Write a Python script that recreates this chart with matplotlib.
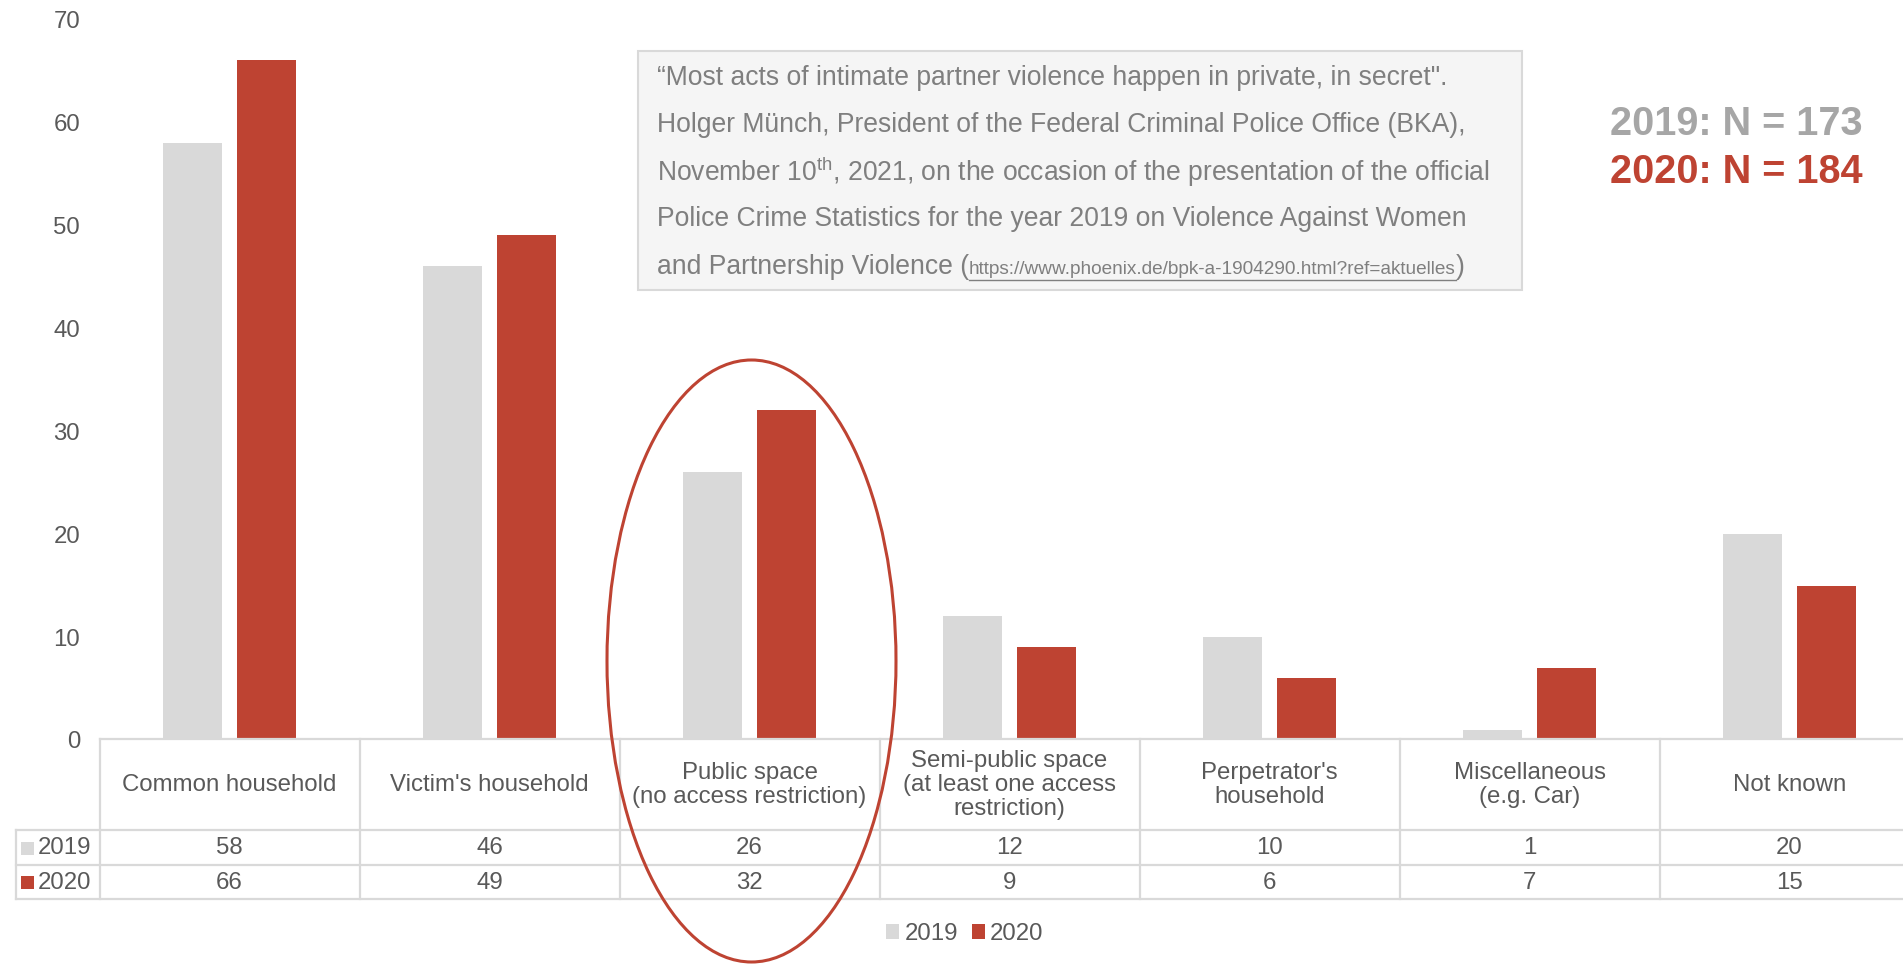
import matplotlib
matplotlib.use("Agg")
import matplotlib.pyplot as plt
from matplotlib.patches import Rectangle, Ellipse, Patch
from matplotlib.transforms import blended_transform_factory
from matplotlib.lines import Line2D

plt.rcParams['font.family'] = ['Liberation Sans', 'DejaVu Sans']
plt.rcParams['mathtext.fontset'] = 'custom'
plt.rcParams['mathtext.rm'] = 'Liberation Sans'

categories = ["Common household", "Victim's household",
              "Public space\n(no access restriction)",
              "Semi-public space\n(at least one access\nrestriction)",
              "Perpetrator's\nhousehold", "Miscellaneous\n(e.g. Car)", "Not known"]
series_names = ["2019", "2020"]
values_2019 = [58, 46, 26, 12, 10, 1, 20]
values_2020 = [66, 49, 32, 9, 6, 7, 15]
yticks = [0, 10, 20, 30, 40, 50, 60, 70]
quote_lines = [
    "\u201cMost acts of intimate partner violence happen in private, in secret\".",
    "Holger M\u00fcnch, President of the Federal Criminal Police Office (BKA),",
    "November 10$^{\\mathregular{th}}$, 2021, on the occasion of the presentation of the official",
    "Police Crime Statistics for the year 2019 on Violence Against Women",
]
quote_last = "and Partnership Violence ("
quote_url = "https://www.phoenix.de/bpk-a-1904290.html?ref=aktuelles"
n_labels = ["2019: N = 173", "2020: N = 184"]

GRAY = '#d9d9d9'
RED = '#be4332'
TXT = '#595959'
W, H = 1903, 964
fs = 17.3
qfs = 19.1

def fx(p):
    return p / W

def fy(p):
    return 1 - p / H

fig = plt.figure(figsize=(W / 100, H / 100), dpi=100)
ax = fig.add_axes([fx(99.5), fy(740), 1820 / W, (740 - 19) / H])
x = list(range(len(categories)))
bw = 0.225
off = 0.143
ax.bar([i - off for i in x], values_2019, width=bw, color=GRAY, zorder=2)
ax.bar([i + off for i in x], values_2020, width=bw, color=RED, zorder=2)
ax.set_xlim(-0.5, len(categories) - 0.5)
ax.set_ylim(0, 70)
ax.set_yticks(yticks)
ax.set_yticklabels([str(t) for t in yticks])
ax.tick_params(axis='y', length=0, pad=14, labelsize=fs, labelcolor=TXT)
ax.set_xticks([])
for s in ax.spines.values():
    s.set_visible(False)

# table
tr = blended_transform_factory(ax.transData, fig.transFigure)
lw = 1.6
for k in range(len(categories) + 1):
    fig.add_artist(Line2D([k - 0.5, k - 0.5], [fy(739), fy(899)], transform=tr,
                          color=GRAY, lw=lw, zorder=0.5))
fig.add_artist(Line2D([-0.5, len(categories) - 0.5], [fy(739), fy(739)], transform=tr,
                      color=GRAY, lw=lw, zorder=0.5))
for yy in (830, 864.5, 899):
    fig.add_artist(Line2D([fx(16), 1.0], [fy(yy), fy(yy)], transform=fig.transFigure,
                          color=GRAY, lw=lw, zorder=0.5))
fig.add_artist(Line2D([fx(16), fx(16)], [fy(830), fy(899)], transform=fig.transFigure,
                      color=GRAY, lw=lw, zorder=0.5))

for i, c in enumerate(categories):
    fig.text(i, fy(785), c, transform=tr, ha='center', va='center', fontsize=fs,
             color=TXT, linespacing=1.12, multialignment='center')
    fig.text(i, fy(848.5), str(values_2019[i]), transform=tr, ha='center', va='center',
             fontsize=fs, color=TXT)
    fig.text(i, fy(883), str(values_2020[i]), transform=tr, ha='center', va='center',
             fontsize=fs, color=TXT)

for name, col, yc in ((series_names[0], GRAY, 848), (series_names[1], RED, 882.5)):
    fig.add_artist(Rectangle((fx(21), fy(yc + 6.5)), 13 / W, 13 / H, transform=fig.transFigure,
                             facecolor=col, edgecolor='none'))
    fig.text(fx(38), fy(yc + 0.5), name, ha='left', va='center', fontsize=fs, color=TXT)

# quote box
fig.add_artist(Rectangle((fx(638), fy(290)), 884 / W, 239 / H, transform=fig.transFigure,
                         facecolor='#f5f5f5', edgecolor=GRAY, lw=1.5, zorder=3))
QC = '#7f7f7f'
ys = [78, 125, 172, 219, 267]
for ln, yy in zip(quote_lines, ys):
    fig.text(fx(657), fy(yy), ln, ha='left', va='center', fontsize=qfs, color=QC, zorder=4)
t1 = fig.text(fx(657), fy(ys[4]), quote_last, ha='left', va='center', fontsize=qfs, color=QC, zorder=4)
fig.canvas.draw()
r = fig.canvas.get_renderer()
bb = t1.get_window_extent(r)
t2 = fig.text(bb.x1 / W, fy(ys[4] + 3), quote_url, ha='left', va='center', fontsize=13.7,
              color=QC, zorder=4)
bb2 = t2.get_window_extent(r)
fig.add_artist(Line2D([bb2.x0 / W, bb2.x1 / W], [fy(ys[4] + 13), fy(ys[4] + 13)],
                      transform=fig.transFigure, color=QC, lw=1, zorder=4))
fig.text(bb2.x1 / W, fy(ys[4]), ")", ha='left', va='center', fontsize=qfs, color=QC, zorder=4)

# N labels
fig.text(fx(1863), fy(124), n_labels[0], ha='right', va='center', fontsize=28.5,
         fontweight='bold', color='#a6a6a6')
fig.text(fx(1863), fy(172), n_labels[1], ha='right', va='center', fontsize=28.5,
         fontweight='bold', color=RED)

# ellipse
fig.add_artist(Ellipse((fx(751.5), fy(661)), 289 / W, 602 / H, transform=fig.transFigure,
                       fill=False, edgecolor=RED, lw=2.2, zorder=5))

# legend
handles = [Patch(facecolor=GRAY, edgecolor='none'), Patch(facecolor=RED, edgecolor='none')]
fig.legend(handles, series_names, loc='center', bbox_to_anchor=(fx(965), fy(934)), ncol=2,
           frameon=False, fontsize=fs, handlelength=0.55, handleheight=0.55,
           handletextpad=0.2, columnspacing=0.6, labelcolor=TXT)

fig.savefig("out.png", dpi=100)
